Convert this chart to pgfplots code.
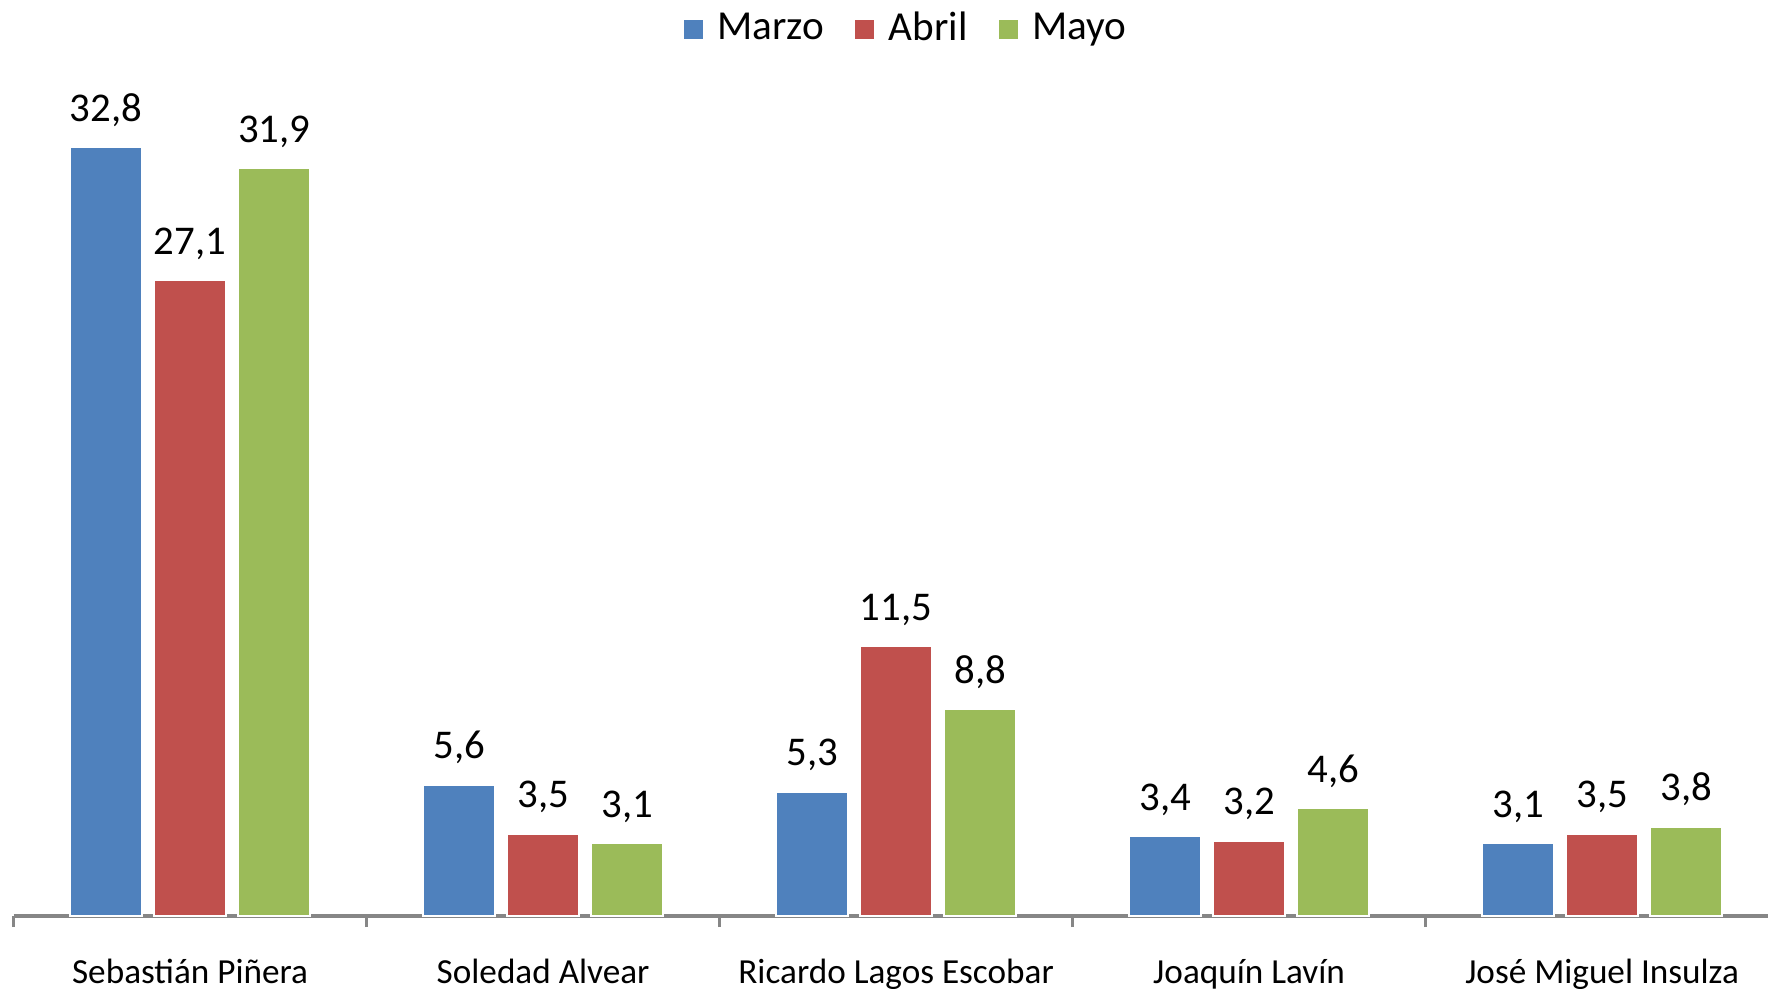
\documentclass[border=0pt]{standalone}
\usepackage{pgfplots}
\pgfplotsset{compat=1.18}
\usepackage{fontspec}
\setmainfont{Carlito}
\definecolor{cBlue}{HTML}{4F81BD}
\definecolor{cRed}{HTML}{C0504D}
\definecolor{cGreen}{HTML}{9BBB59}
\definecolor{cAxis}{HTML}{868686}
\begin{document}
\begin{tikzpicture}
\begin{axis}[
  scale only axis,
  width=438.6pt, height=222.7pt,
  ymin=0, ymax=38,
  xmin=-0.5, xmax=4.47,
  ybar, bar width=0.204,
  axis x line*=bottom,
  hide y axis,
  x axis line style={-, draw=cAxis, line width=0.8pt},
  xtick={0,1,2,3,4},
  xticklabels={Sebastián Piñera, Soledad Alvear, Ricardo Lagos Escobar, Joaquín Lavín, José Miguel Insulza},
  major tick length=0pt,
  minor xtick={-0.5,0.5,1.5,2.5,3.5},
  minor tick length=2.8pt,
  tick align=outside,
  minor tick style={draw=cAxis, line width=0.8pt},
  xticklabel style={font=\fontsize{8.8pt}{10pt}\selectfont, anchor=base, yshift=-16.8pt},
  nodes near coords,
  nodes near coords style={font=\fontsize{10.2pt}{12pt}\selectfont, anchor=south, inner sep=0pt, yshift=5pt,
     /pgf/number format/.cd, fixed, fixed zerofill, precision=1, use comma, assume math mode=true},
  every axis plot/.append style={draw=white, line width=0.4pt},
  legend columns=3,
  legend style={draw=none, fill=none, at={(0.51,0.995)}, anchor=center,
     font=\fontsize{10.3pt}{12pt}\selectfont,
     /tikz/every odd column/.append style={column sep=1.2pt},
     /tikz/every even column/.append style={column sep=5.4pt}},
  legend image code/.code={\fill[#1] (0pt,-2.6pt) rectangle (5.2pt,2.6pt);},
  clip=false,
]
\addplot[fill=cBlue, bar shift=-0.238] coordinates {(0,32.8) (1,5.6) (2,5.3) (3,3.4) (4,3.1)};
\addplot[fill=cRed, bar shift=0] coordinates {(0,27.1) (1,3.5) (2,11.5) (3,3.2) (4,3.5)};
\addplot[fill=cGreen, bar shift=0.238] coordinates {(0,31.9) (1,3.1) (2,8.8) (3,4.6) (4,3.8)};
\legend{Marzo, Abril, Mayo}
\end{axis}
\pgfresetboundingbox
\path[use as bounding box] ([xshift=-3.4pt, yshift=-18.25pt]current axis.south west) rectangle ([yshift=6.3pt]current axis.north east);
\end{tikzpicture}
\end{document}
